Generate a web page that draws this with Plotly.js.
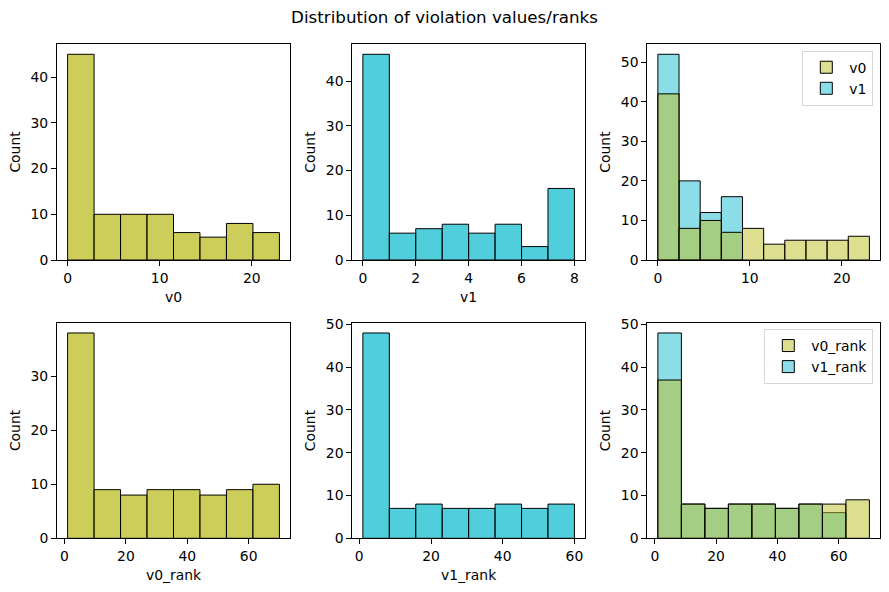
<!DOCTYPE html>
<html>
<head>
<meta charset="utf-8">
<script src="https://cdn.plot.ly/plotly-3.0.1.min.js"></script>
<style>html,body{margin:0;padding:0;background:#fff;}#chart{width:889px;height:592px;}</style>
</head>
<body>
<div id="chart"></div>
<script>
// ---- data ----
const v0Counts = [45, 10, 10, 10, 6, 5, 8, 6];
const v0Limits = [0, 23];
const v1Counts = [46, 6, 7, 8, 6, 8, 3, 16];
const v1Limits = [0, 8];
const bothV0Counts = [42, 8, 10, 7, 8, 4, 5, 5, 5, 6];
const bothV1Counts = [52, 20, 12, 16];
const bothLimits = [0, 23];
const bothBins = 10;
const v0RankCounts = [38, 9, 8, 9, 9, 8, 9, 10];
const v0RankLimits = [1, 70];
const v1RankCounts = [48, 7, 8, 7, 7, 8, 7, 8];
const v1RankLimits = [1, 60];
const bothRank0Counts = [37, 8, 7, 8, 8, 7, 8, 8, 9];
const bothRank1Counts = [48, 8, 7, 8, 8, 7, 8, 6];
const bothRankLimits = [1, 70];
const bothRankBins = 9;

const OLIVE = 'rgba(188,189,34,0.75)';
const CYAN = 'rgba(23,190,207,0.75)';
const OLIVE_A = 'rgba(188,189,34,0.5)';
const CYAN_A = 'rgba(23,190,207,0.5)';
const FONT = 'DejaVu Sans, sans-serif';
const FS = 13.9;

function barTrace(counts, limits, nBins, color, xa, ya, name, legend, rank) {
  const w = (limits[1] - limits[0]) / nBins;
  const x = counts.map((_, i) => limits[0] + w * (i + 0.5));
  const t = {
    type: 'bar', x: x, y: counts, width: counts.map(() => w),
    marker: {color: color, line: {color: '#000', width: 1}},
    xaxis: xa, yaxis: ya, hoverinfo: 'skip', showlegend: !!name
  };
  if (name) { t.name = name; t.legend = legend; t.legendrank = rank; }
  return t;
}

const traces = [
  barTrace(v0Counts, v0Limits, v0Counts.length, OLIVE, 'x', 'y'),
  barTrace(v1Counts, v1Limits, v1Counts.length, CYAN, 'x2', 'y2'),
  barTrace(bothV1Counts, bothLimits, bothBins, CYAN_A, 'x3', 'y3', 'v1', 'legend', 2),
  barTrace(bothV0Counts, bothLimits, bothBins, OLIVE_A, 'x3', 'y3', 'v0', 'legend', 1),
  barTrace(v0RankCounts, v0RankLimits, v0RankCounts.length, OLIVE, 'x4', 'y4'),
  barTrace(v1RankCounts, v1RankLimits, v1RankCounts.length, CYAN, 'x5', 'y5'),
  barTrace(bothRank1Counts, bothRankLimits, bothRankBins, CYAN_A, 'x6', 'y6', 'v1_rank', 'legend2', 2),
  barTrace(bothRank0Counts, bothRankLimits, bothRankBins, OLIVE_A, 'x6', 'y6', 'v0_rank', 'legend2', 1)
];

const W = 889, H = 592;
const colPx = [[57, 290], [352.3, 585], [647.3, 880]];
const rowPx = [[44, 260], [322.7, 538.3]];
const xd = c => [colPx[c][0] / W, colPx[c][1] / W];
const yd = r => [1 - rowPx[r][1] / H, 1 - rowPx[r][0] / H];

function padRange(lim) { const p = (lim[1] - lim[0]) * 0.05; return [lim[0] - p, lim[1] + p]; }
function yRange(...arrs) { return [0, 1.05 * Math.max(...arrs.flat())]; }

function axis(domain, anchor, range, dtick, title, standoff) {
  return {
    domain: domain, anchor: anchor, range: range, dtick: dtick, tick0: 0,
    showline: true, mirror: true, linecolor: '#000', linewidth: 1,
    ticks: 'outside', ticklen: 5, tickwidth: 1, tickcolor: '#000',
    showgrid: false, zeroline: false, fixedrange: true, automargin: false,
    tickfont: {family: FONT, size: FS, color: '#000'},
    title: {text: title || '', font: {family: FONT, size: FS, color: '#000'}, standoff: standoff}
  };
}
const xa = (c, r, lim, dt, t) => axis(xd(c), 'y' + (r * 3 + c + 1 === 1 ? '' : r * 3 + c + 1), padRange(lim), dt, t, 7);
const ya = (c, r, rng, t) => axis(yd(r), 'x' + (r * 3 + c + 1 === 1 ? '' : r * 3 + c + 1), rng, 10, t, 6);

const layout = {
  width: W, height: H,
  margin: {l: 0, r: 0, t: 0, b: 0},
  paper_bgcolor: '#fff', plot_bgcolor: '#fff',
  barmode: 'overlay',
  font: {family: FONT, size: FS, color: '#000'},
  title: {text: 'Distribution of violation values/ranks', x: 0.5, xanchor: 'center',
          xref: 'paper', yref: 'paper', y: 1 - 17 / H, yanchor: 'middle',
          font: {family: FONT, size: 16.7, color: '#000'}},
  xaxis: xa(0, 0, v0Limits, 10, 'v0'),
  yaxis: ya(0, 0, yRange(v0Counts), 'Count'),
  xaxis2: xa(1, 0, v1Limits, 2, 'v1'),
  yaxis2: ya(1, 0, yRange(v1Counts), 'Count'),
  xaxis3: xa(2, 0, bothLimits, 10, ''),
  yaxis3: ya(2, 0, yRange(bothV0Counts, bothV1Counts), 'Count'),
  xaxis4: xa(0, 1, v0RankLimits, 20, 'v0_rank'),
  yaxis4: ya(0, 1, yRange(v0RankCounts), 'Count'),
  xaxis5: xa(1, 1, v1RankLimits, 20, 'v1_rank'),
  yaxis5: ya(1, 1, yRange(v1RankCounts), 'Count'),
  xaxis6: xa(2, 1, bothRankLimits, 20, ''),
  yaxis6: ya(2, 1, yRange(bothRank0Counts, bothRank1Counts), 'Count'),
  legend: {x: 873.3 / W, xanchor: 'right', y: 1 - 50.7 / H, yanchor: 'top',
           bgcolor: '#fff', bordercolor: '#d6d6d6', borderwidth: 1, itemwidth: 36,
           font: {family: FONT, size: FS, color: '#000'}, tracegroupgap: 0},
  legend2: {x: 873.3 / W, xanchor: 'right', y: 1 - 329 / H, yanchor: 'top',
            bgcolor: '#fff', bordercolor: '#d6d6d6', borderwidth: 1, itemwidth: 36,
            font: {family: FONT, size: FS, color: '#000'}, tracegroupgap: 0},
  showlegend: true
};

Plotly.newPlot('chart', traces, layout, {staticPlot: true, displayModeBar: false});
</script>
</body>
</html>
